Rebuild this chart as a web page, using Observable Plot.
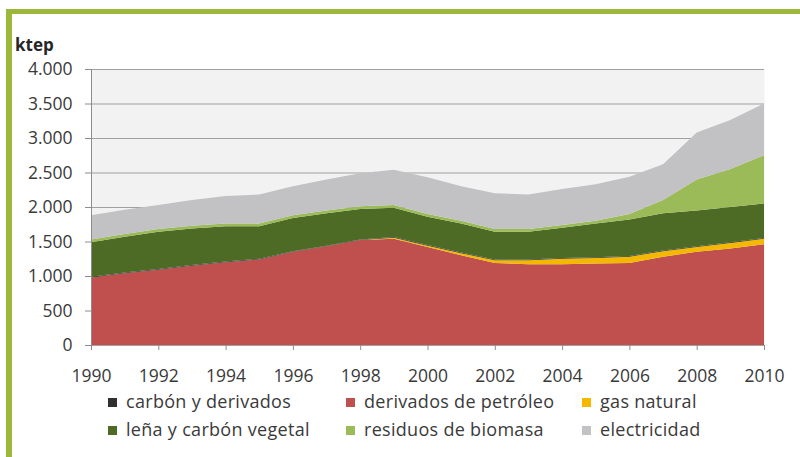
<!DOCTYPE html>
<html><head><meta charset="utf-8">
<script src="https://cdn.jsdelivr.net/npm/d3@7"></script>
<script src="https://cdn.jsdelivr.net/npm/@observablehq/plot@0.6"></script>
<style>
body{margin:0;background:#fff;font-family:"Open Sans",sans-serif;width:800px;height:457px;overflow:hidden;position:relative}
#frame{position:absolute;left:6px;top:9px;width:794px;height:448px;border-left:6px solid #9BB83A;border-top:5px solid #9BB83A;pointer-events:none;z-index:5;box-sizing:border-box}
#chart{position:absolute;left:0;top:0}
#ktep{position:absolute;left:15px;top:33px;font-weight:bold;font-size:17px;color:#262626}
.item{position:absolute;font-size:18px;letter-spacing:0.3px;color:#3a3a3a;line-height:22px;white-space:nowrap}
.sw{position:absolute;width:9px;height:9px}
</style>
</head><body>
<div id="frame"></div>
<div id="chart"></div>
<div id="ktep">ktep</div>
<div id="legend"></div>
<script>
const years = [1990,1991,1992,1993,1994,1995,1996,1997,1998,1999,2000,2001,2002,2003,2004,2005,2006,2007,2008,2009,2010];
const petroleo     = [980,1040,1090,1150,1200,1240,1350,1430,1520,1540,1420,1300,1190,1170,1170,1180,1190,1280,1350,1400,1460];
const gasNatural   = [0,0,0,0,0,0,0,0,0,15,20,30,40,60,80,80,90,80,70,80,80];
const carbon       = [10,10,10,10,10,10,10,10,10,10,10,10,10,10,10,10,10,10,10,10,10];
const lena         = [500,520,540,530,510,470,480,470,440,425,410,420,400,400,440,490,530,540,520,510,500];
const biomasa      = [40,40,40,40,40,40,40,40,40,40,40,40,40,40,40,40,80,190,450,550,700];
const electricidad = [350,350,350,370,400,420,420,450,480,510,530,500,520,500,520,530,540,520,680,710,750];

const legendNames = ["carbón y derivados","derivados de petróleo","gas natural","leña y carbón vegetal","residuos de biomasa","electricidad"];
const stackOrder = ["derivados de petróleo","gas natural","carbón y derivados","leña y carbón vegetal","residuos de biomasa","electricidad"];
const seriesValues = [petroleo, gasNatural, carbon, lena, biomasa, electricidad];
const seriesColors = ["#C0504D","#F5B800","#303030","#4E6B26","#9BBB59","#C2C2C4"];
const yTicks = [0,500,1000,1500,2000,2500,3000,3500,4000];
const xTicks = [1990,1992,1994,1996,1998,2000,2002,2004,2006,2008,2010];

const data = [];
stackOrder.forEach((s,i)=>years.forEach((y,j)=>data.push({year:y, series:s, value:seriesValues[i][j]})));
const fmt = d => d3.format(",")(d).replace(/,/g,".");

const chart = Plot.plot({
  width:800, height:392,
  marginLeft:91, marginRight:36, marginTop:69, marginBottom:47,
  x:{domain:[1990,2010], label:null},
  y:{domain:[0,4000], label:null},
  color:{domain:stackOrder, range:seriesColors},
  style:{background:"transparent", fontFamily:"Open Sans, sans-serif", fontSize:"17.5px", color:"#3a3a3a", overflow:"visible"},
  marks:[
    Plot.frame({fill:"#F2F2F2", stroke:null}),
    Plot.gridY(yTicks,{stroke:"#A0A0A0", strokeOpacity:1}),
    Plot.areaY(data,{x:"year", y:"value", fill:"series", z:"series", order:stackOrder}),
    Plot.ruleX([1990],{stroke:"#8C8C8C"}),
    Plot.ruleY([0],{stroke:"#A0A0A0"}),
    Plot.axisY(yTicks,{tickSize:6, tickPadding:13, tickFormat:fmt, stroke:"#8C8C8C", fill:"#3a3a3a", label:null}),
    Plot.axisX(xTicks,{tickSize:5, tickPadding:19, tickFormat:d=>String(d), stroke:"#8C8C8C", fill:"#3a3a3a", label:null})
  ]
});
document.getElementById("chart").appendChild(chart);

const lg = document.getElementById("legend");
const cols = [108,346,582];
const rows = [402,430];
legendNames.forEach((name,k)=>{
  const col = cols[k%3], row = rows[Math.floor(k/3)];
  const color = seriesColors[stackOrder.indexOf(name)];
  const sw = document.createElement("div");
  sw.className="sw"; sw.style.left=col+"px"; sw.style.top=(row-4)+"px"; sw.style.background=color;
  lg.appendChild(sw);
  const t = document.createElement("div");
  t.className="item"; t.style.left=(col+18)+"px"; t.style.top=(row-12)+"px"; t.textContent=name;
  lg.appendChild(t);
});
</script>
</body></html>
